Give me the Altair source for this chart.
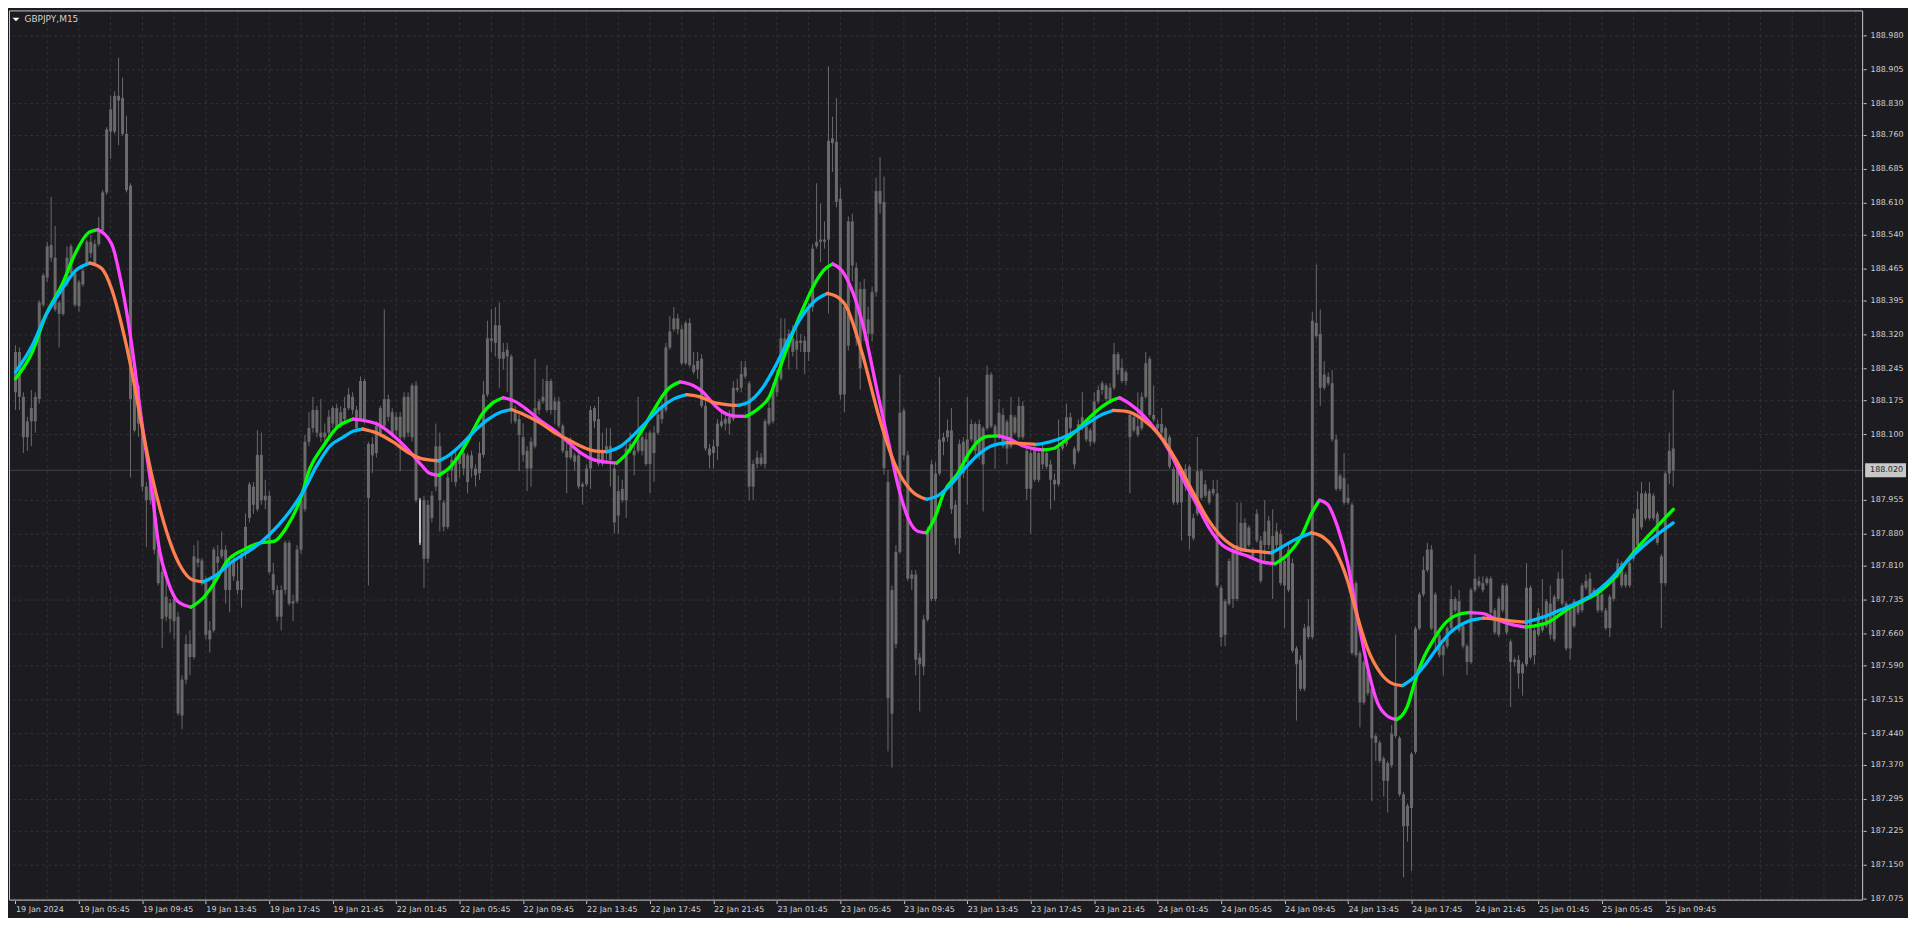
import json
import altair as alt
import pandas as pd

# ---------------- data ----------------
title_text = "GBPJPY,M15"
bid_price = 188.020

open_ = [
188.281,188.281,188.182,188.093,188.128,188.128,188.177,188.385,188.445,188.517,
188.489,188.365,188.365,188.430,188.514,188.385,188.382,188.430,188.475,188.524,
188.475,188.519,188.549,188.633,188.767,188.767,188.846,188.841,188.762,188.648,
188.108,188.207,188.123,187.954,188.014,187.974,187.845,187.796,187.741,187.692,
187.736,187.697,187.479,187.558,187.608,187.608,187.825,187.821,187.776,187.647,
187.667,187.816,187.845,187.845,187.756,187.821,187.756,187.756,187.835,187.915,
187.944,187.934,188.054,187.964,187.964,187.791,187.756,187.697,187.860,187.860,
187.726,187.731,187.845,187.934,188.083,188.153,188.153,188.093,188.093,188.103,
188.157,188.113,188.123,188.133,188.187,188.182,188.113,188.133,188.217,187.959,
188.053,188.058,188.098,188.118,188.177,188.148,188.108,188.093,188.093,188.182,
188.093,188.207,187.954,187.825,187.825,187.915,187.984,188.073,187.895,187.895,
188.019,187.994,188.034,188.058,187.994,188.053,188.009,188.014,188.054,188.187,
188.306,188.301,188.340,188.266,188.286,188.271,188.153,188.133,188.093,188.063,
188.024,188.073,188.153,188.172,188.153,188.217,188.172,188.172,188.118,188.063,
188.048,188.053,188.053,187.984,187.989,188.024,188.157,188.133,188.034,188.063,
188.073,188.024,187.920,187.954,187.954,188.063,188.063,188.063,188.093,188.088,
188.034,188.058,188.103,188.133,188.153,188.291,188.331,188.355,188.331,188.256,
188.345,188.252,188.242,188.266,188.162,188.068,188.058,188.073,188.118,188.123,
188.123,188.133,188.197,188.202,188.227,188.212,187.984,188.034,188.048,188.034,
188.123,188.128,188.192,188.222,188.311,188.291,188.311,188.286,188.306,188.281,
188.281,188.380,188.514,188.524,188.529,188.529,188.742,188.744,188.619,188.187,
188.295,188.569,188.467,188.245,188.420,188.353,188.321,188.413,188.608,188.612,
187.994,187.483,187.637,187.840,188.152,188.053,187.790,187.790,187.607,187.587,
187.691,187.736,187.736,188.013,188.083,188.093,188.108,187.944,187.870,188.013,
188.088,188.088,188.122,188.053,188.113,188.113,188.231,188.117,188.093,188.142,
188.068,188.073,188.137,188.093,188.162,188.063,187.979,188.068,187.999,188.068,
188.058,188.033,187.999,187.989,188.068,188.078,188.137,188.068,188.063,188.113,
188.117,188.108,188.083,188.172,188.197,188.207,188.172,188.202,188.276,188.246,
188.217,188.142,188.108,188.117,188.113,188.182,188.266,188.142,188.122,188.122,
188.113,188.093,188.023,187.949,188.013,187.984,188.028,187.870,187.924,188.018,
187.964,187.974,187.969,187.969,187.761,187.657,187.726,187.736,187.736,187.840,
187.904,187.855,187.840,187.865,187.865,187.855,187.909,187.815,187.855,187.880,
187.820,187.845,187.815,187.627,187.602,187.538,187.652,187.652,188.345,188.321,
188.202,188.226,188.212,188.088,187.979,188.003,187.949,187.944,187.771,187.617,
187.508,187.577,187.538,187.434,187.419,187.384,187.335,187.369,187.434,187.429,
187.305,187.235,187.275,187.399,187.671,187.746,187.800,187.845,187.746,187.657,
187.612,187.632,187.672,187.736,187.731,187.676,187.632,187.597,187.756,187.776,
187.756,187.771,187.781,187.711,187.657,187.711,187.766,187.642,187.597,187.602,
187.572,187.592,187.761,187.612,187.657,187.681,187.676,187.726,187.647,187.736,
187.781,187.726,187.627,187.676,187.726,187.711,187.761,187.781,187.746,187.746,
187.711,187.711,187.672,187.736,187.785,187.815,187.766,187.766,187.825,187.855,
187.894,187.914,187.969,187.964,187.924,187.830,187.771,188.013,188.068]

high = [
188.296,188.291,188.192,188.138,188.197,188.192,188.395,188.455,188.524,188.623,
188.559,188.395,188.435,188.514,188.519,188.460,188.440,188.470,188.529,188.539,
188.529,188.579,188.638,188.777,188.846,188.856,188.930,188.886,188.802,188.653,
188.212,188.212,188.133,187.994,188.024,187.984,187.855,187.806,187.786,187.736,
187.746,187.707,187.568,187.657,187.667,187.855,187.865,187.826,187.786,187.687,
187.850,187.855,187.885,187.855,187.826,187.836,187.816,187.845,187.925,187.994,
187.994,188.108,188.103,187.999,187.974,187.816,187.766,187.766,187.865,187.865,
187.746,187.855,187.964,188.098,188.148,188.182,188.162,188.177,188.123,188.153,
188.162,188.167,188.162,188.182,188.202,188.192,188.162,188.227,188.222,188.083,
188.093,188.128,188.162,188.375,188.187,188.157,188.148,188.148,188.192,188.192,
188.212,188.217,187.959,187.964,187.954,187.974,188.123,188.103,187.954,188.014,
188.053,188.063,188.058,188.063,188.058,188.063,188.033,188.083,188.217,188.350,
188.375,188.380,188.390,188.301,188.301,188.276,188.162,188.143,188.123,188.073,
188.093,188.266,188.177,188.222,188.252,188.222,188.182,188.182,188.123,188.083,
188.093,188.058,188.058,187.994,188.033,188.162,188.162,188.182,188.103,188.113,
188.113,188.033,188.009,187.999,188.083,188.103,188.083,188.182,188.108,188.103,
188.108,188.118,188.162,188.172,188.301,188.360,188.380,188.365,188.340,188.350,
188.355,188.281,188.281,188.276,188.172,188.078,188.088,188.133,188.153,188.148,
188.153,188.217,188.222,188.261,188.261,188.217,188.043,188.063,188.058,188.133,
188.182,188.212,188.242,188.355,188.355,188.331,188.340,188.350,188.321,188.316,
188.390,188.519,188.653,188.608,188.569,188.911,188.800,188.841,188.644,188.392,
188.580,188.586,188.478,188.435,188.442,188.381,188.424,188.666,188.711,188.668,
188.020,187.766,187.855,188.231,188.157,188.063,187.800,187.800,187.617,187.701,
187.895,188.043,188.038,188.226,188.103,188.132,188.157,187.954,188.088,188.093,
188.182,188.132,188.127,188.132,188.117,188.251,188.236,188.122,188.177,188.157,
188.132,188.182,188.142,188.182,188.172,188.073,188.068,188.078,188.068,188.078,
188.068,188.043,188.013,188.132,188.088,188.167,188.147,188.073,188.132,188.192,
188.122,188.113,188.192,188.207,188.217,188.212,188.212,188.301,188.281,188.266,
188.241,188.147,188.142,188.192,188.192,188.281,188.271,188.207,188.132,188.157,
188.117,188.098,188.028,188.028,188.018,188.033,188.033,187.924,188.093,188.023,
187.999,187.979,187.999,187.999,187.766,187.736,187.825,187.850,187.949,187.949,
187.914,187.899,187.850,187.934,187.875,187.954,187.919,187.934,187.904,187.889,
187.830,187.855,187.825,187.632,187.612,187.681,187.736,188.370,188.474,188.375,
188.261,188.236,188.241,188.098,188.013,188.058,187.989,187.949,187.776,187.622,
187.602,187.582,187.543,187.439,187.424,187.389,187.379,187.458,187.657,187.434,
187.310,187.285,187.399,187.676,187.751,187.830,187.860,187.855,187.751,187.662,
187.637,187.676,187.766,187.741,187.756,187.681,187.637,187.761,187.835,187.786,
187.786,187.786,187.786,187.716,187.741,187.771,187.771,187.647,187.607,187.612,
187.597,187.815,187.766,187.676,187.716,187.780,187.736,187.766,187.746,187.795,
187.845,187.731,187.721,187.736,187.731,187.771,187.790,187.795,187.761,187.751,
187.751,187.716,187.746,187.790,187.825,187.820,187.795,187.820,187.924,187.974,
187.994,187.974,187.994,187.969,187.929,187.835,188.018,188.103,188.197]

low = [
188.153,188.153,188.058,188.063,188.073,188.103,188.167,188.380,188.435,188.480,
188.370,188.291,188.361,188.425,188.450,188.380,188.370,188.425,188.470,188.489,
188.470,188.514,188.539,188.628,188.707,188.762,188.737,188.757,188.633,188.004,
188.103,188.093,187.974,187.851,187.944,187.835,187.766,187.628,187.687,187.662,
187.648,187.479,187.449,187.548,187.568,187.603,187.806,187.766,187.647,187.618,
187.662,187.786,187.825,187.726,187.707,187.776,187.746,187.717,187.825,187.905,
187.924,187.929,187.944,187.934,187.791,187.746,187.687,187.667,187.746,187.721,
187.687,187.726,187.835,187.929,188.073,188.103,188.093,188.083,188.083,188.093,
188.113,188.108,188.113,188.128,188.153,188.143,188.103,188.128,188.123,187.766,
188.014,188.048,188.093,188.113,188.128,188.093,188.098,188.018,188.088,188.093,
188.083,187.949,187.855,187.761,187.816,187.905,187.974,187.885,187.885,187.890,
187.994,187.984,188.004,188.009,187.969,188.004,187.984,187.999,188.048,188.182,
188.281,188.271,188.202,188.242,188.192,188.123,188.123,188.018,188.039,187.974,
187.984,188.068,188.143,188.167,188.148,188.143,188.123,188.113,188.058,187.969,
188.043,188.019,187.979,187.944,187.984,187.979,188.113,188.029,188.029,188.034,
187.984,187.880,187.880,187.949,187.915,188.058,188.009,188.058,188.053,188.029,
187.969,187.994,188.098,188.123,188.148,188.286,188.326,188.321,188.252,188.252,
188.247,188.232,188.222,188.157,188.063,188.024,188.024,188.043,188.113,188.108,
188.098,188.128,188.192,188.192,188.222,187.954,187.954,188.024,188.029,188.024,
188.118,188.123,188.182,188.217,188.281,188.242,188.271,188.242,188.281,188.232,
188.261,188.370,188.509,188.479,188.509,188.366,188.678,188.600,188.176,188.148,
188.284,188.437,188.295,188.198,188.305,188.295,188.305,188.403,188.586,188.010,
187.400,187.364,187.627,187.835,188.043,187.776,187.756,187.568,187.488,187.568,
187.686,187.731,187.731,188.008,188.053,188.083,187.924,187.855,187.835,188.003,
187.944,188.083,188.053,188.043,187.929,188.108,188.113,188.023,188.088,188.068,
188.033,188.068,188.098,188.088,188.088,187.954,187.880,187.994,187.994,188.023,
188.023,187.934,187.954,187.984,188.063,188.073,188.103,188.023,188.058,188.108,
188.083,188.073,188.078,188.167,188.187,188.172,188.167,188.197,188.231,188.212,
188.207,187.969,188.103,188.093,188.108,188.177,188.137,188.127,188.108,188.098,
188.073,188.023,187.944,187.944,187.865,187.974,187.845,187.865,187.919,187.954,
187.959,187.944,187.964,187.761,187.632,187.632,187.721,187.716,187.731,187.835,
187.840,187.850,187.825,187.860,187.771,187.815,187.845,187.736,187.845,187.766,
187.672,187.751,187.617,187.468,187.533,187.533,187.647,187.647,188.311,188.162,
188.197,188.207,188.083,187.974,187.974,187.944,187.944,187.612,187.607,187.453,
187.503,187.523,187.290,187.379,187.374,187.300,187.265,187.364,187.429,187.300,
187.122,187.201,187.136,187.394,187.667,187.741,187.795,187.667,187.617,187.607,
187.568,187.627,187.667,187.706,187.662,187.627,187.568,187.592,187.751,187.761,
187.751,187.766,187.701,187.657,187.652,187.706,187.657,187.498,187.587,187.538,
187.523,187.587,187.602,187.592,187.652,187.662,187.672,187.647,187.642,187.731,
187.721,187.622,187.602,187.672,187.701,187.706,187.756,187.741,187.741,187.706,
187.706,187.667,187.652,187.731,187.781,187.761,187.761,187.761,187.820,187.850,
187.889,187.909,187.909,187.909,187.855,187.672,187.766,187.989,187.984]

close = [
188.192,188.182,188.093,188.128,188.157,188.182,188.390,188.450,188.514,188.489,
188.375,188.390,188.425,188.489,188.455,188.455,188.435,188.460,188.524,188.499,
188.519,188.549,188.633,188.772,188.816,188.846,188.836,188.762,188.638,188.177,
188.202,188.123,187.984,187.984,187.954,187.845,187.771,187.692,187.697,187.727,
187.687,187.484,187.558,187.637,187.637,187.830,187.816,187.776,187.657,187.667,
187.845,187.830,187.830,187.756,187.816,187.786,187.776,187.835,187.895,187.989,
187.984,188.054,187.954,187.954,187.796,187.756,187.697,187.756,187.756,187.726,
187.731,187.845,187.954,188.083,188.113,188.113,188.103,188.103,188.103,188.138,
188.123,188.157,188.148,188.157,188.157,188.153,188.153,188.217,188.133,188.078,
188.078,188.118,188.157,188.177,188.138,188.098,188.138,188.138,188.182,188.103,
188.207,187.954,187.860,187.954,187.944,187.964,188.073,187.954,187.949,188.004,
188.043,188.048,188.053,188.024,188.053,188.024,188.024,188.058,188.187,188.311,
188.311,188.340,188.266,188.281,188.271,188.153,188.128,188.098,188.054,188.024,
188.083,188.157,188.172,188.182,188.217,188.153,188.153,188.118,188.063,188.048,
188.073,188.039,187.984,187.989,188.024,188.153,188.128,188.034,188.063,188.073,
188.043,187.905,187.974,187.979,188.068,188.078,188.053,188.088,188.063,188.034,
188.103,188.103,188.143,188.162,188.291,188.326,188.355,188.331,188.256,188.345,
188.252,188.237,188.261,188.162,188.068,188.053,188.073,188.123,188.128,188.133,
188.138,188.202,188.202,188.232,188.247,187.984,188.034,188.048,188.034,188.128,
188.157,188.202,188.222,188.311,188.291,188.321,188.281,188.306,188.301,188.306,
188.380,188.509,188.524,188.529,188.524,188.747,188.752,188.612,188.187,188.381,
188.569,188.472,188.312,188.420,188.327,188.321,188.413,188.636,188.636,188.025,
187.518,187.756,187.840,188.147,188.053,187.781,187.781,187.602,187.592,187.691,
187.885,188.033,188.013,188.088,188.093,188.108,187.934,187.870,188.078,188.083,
188.038,188.122,188.063,188.122,188.033,188.231,188.117,188.093,188.147,188.073,
188.127,188.142,188.103,188.162,188.093,187.979,188.058,187.999,188.058,188.033,
188.028,187.999,187.989,188.068,188.078,188.137,188.113,188.033,188.122,188.137,
188.088,188.083,188.172,188.197,188.212,188.177,188.202,188.276,188.241,188.217,
188.236,188.093,188.137,188.098,188.182,188.256,188.142,188.132,188.113,188.103,
188.078,188.028,187.949,188.023,187.949,188.023,187.875,187.914,188.018,187.959,
187.989,187.949,187.979,187.766,187.652,187.731,187.820,187.845,187.855,187.904,
187.845,187.894,187.830,187.924,187.776,187.885,187.855,187.875,187.885,187.771,
187.766,187.756,187.622,187.592,187.538,187.672,187.676,188.350,188.316,188.202,
188.231,188.212,188.088,187.979,188.008,187.949,187.959,187.617,187.612,187.508,
187.597,187.528,187.429,187.419,187.379,187.335,187.374,187.439,187.543,187.305,
187.235,187.280,187.394,187.671,187.746,187.800,187.845,187.671,187.657,187.612,
187.632,187.672,187.736,187.711,187.667,187.632,187.597,187.756,187.781,187.766,
187.771,187.781,187.706,187.662,187.736,187.766,187.662,187.597,187.602,187.572,
187.592,187.761,187.607,187.667,187.706,187.667,187.731,187.657,187.741,187.781,
187.726,187.627,187.716,187.731,187.706,187.766,187.776,187.746,187.756,187.711,
187.746,187.672,187.741,187.785,187.815,187.766,187.790,187.815,187.914,187.934,
187.969,187.969,187.914,187.914,187.860,187.771,188.013,188.063,188.020]

# bar index drawn white in the picture
white_bar = 102

# fast smoothing line (green rising / magenta falling), sampled along the bars
fast_idx = [0,4.25,7.6,11.75,15.1,18.4,20.75,24.25,26.75,29.25,31.75,34.25,36.3,38.4,40.9,44.25,47.6,50.1,53.4,57.6,
            61.75,65.1,68.4,71.75,74.25,77.6,80.9,85.1,90.9,95.1,99.25,102.6,104.25,106.75,109.25,112.6,115.1,117.6,120.1,123,
            125.9,129.25,132.6,135.9,139.25,142.6,145.9,149.25,151.6,154.25,157.6,160.9,164.25,167.6,170.9,173.4,175.9,178.4,180.9,184.25,
            187.6,190.1,192.6,195.9,199.25,201.75,204.25,206.1,208.4,213.4,217.6,220.1,222.6,225.1,227.6,229.7,231.75,234.25,237.6,240.1,
            242.6,245.1,248,250.9,254.25,256.75,259.25,261.75,264.25,267.6,270.9,274.25,276.75,278.4,280.9,284.25,287.6,290.9,294.25,297.6,
            300.9,304.25,307.6,310.9,314.25,317.6,320.9,324.25,326.75,328.8,330.9,333.4,335.9,338.4,340.9,343.4,345.9,348.25,350.9,353,
            355.1,357.6,360.9,364.25,366.75,370.1,373.4,377.6,380.9,386.75,390.9,395.1,399.25,403.4,406.75,410.1,414.25,418]
fast_val = [188.222,188.281,188.361,188.430,188.499,188.544,188.551,188.519,188.430,188.301,
            188.133,187.984,187.845,187.776,187.731,187.718,187.741,187.771,187.820,187.845,
            187.860,187.863,187.895,187.954,188.024,188.073,188.113,188.133,188.123,188.098,
            188.063,188.029,188.014,188.009,188.024,188.063,188.103,188.143,188.167,188.180,
            188.172,188.152,188.128,188.108,188.083,188.058,188.043,188.038,188.036,188.058,
            188.103,188.152,188.197,188.215,188.207,188.192,188.167,188.148,188.140,188.139,
            188.158,188.182,188.242,188.321,188.390,188.435,188.465,188.475,188.460,188.350,
            188.182,188.083,187.984,187.914,187.885,187.882,187.914,187.974,188.013,188.053,
            188.083,188.095,188.096,188.088,188.073,188.068,188.065,188.068,188.083,188.108,
            188.137,188.162,188.175,188.180,188.167,188.142,188.108,188.063,188.003,187.949,
            187.894,187.855,187.840,187.830,187.818,187.814,187.835,187.875,187.924,187.954,
            187.944,187.894,187.815,187.696,187.587,187.508,187.478,187.470,187.498,187.558,
            187.607,187.647,187.686,187.703,187.706,187.704,187.691,187.679,187.674,187.686,
            187.711,187.731,187.751,187.785,187.825,187.860,187.899,187.934]

# slow smoothing line (blue rising / coral falling)
slow_idx = [0,4.25,7.6,11.75,15.1,18.8,21.75,24.25,26.75,29.25,31.75,34.25,36.75,39.25,41.75,44.7,47.4,51,54.25,57.6,
            61.75,65.9,69.25,72.6,75.9,79.25,82.6,85.1,87.6,90.9,95.1,99.25,102.6,104.25,106.75,109.25,112.6,115.9,119.25,122.6,
            125.1,128.4,132.6,135.9,139.25,142.6,145.9,149.25,152.6,155.9,159.25,162.6,165.9,169.25,172.6,175.9,179.25,182.2,185.1,188.4,
            191.75,195.1,198.4,201.75,204.7,207.6,209.25,213.4,217.6,221.75,226,229.7,232.6,235.9,239.25,242.6,245.9,250.1,254.25,257.6,
            260.9,264.25,267.6,270.9,274.25,276.75,280.1,284.25,288.4,292.6,296.75,300.9,305.1,309.25,314.1,316.75,319.25,322.6,326.75,329.25,
            332.6,335.9,338.4,340.9,344.25,347.6,349.7,352.6,355.1,358.4,361.75,366,370.1,374.25,377.6,380.9,385.1,389.25,393.4,397.6,
            401.75,405.9,410.1,414.25,418]
slow_val = [188.237,188.296,188.361,188.420,188.460,188.477,188.465,188.420,188.341,188.242,
            188.123,188.014,187.925,187.855,187.806,187.778,187.774,187.791,187.816,187.835,
            187.860,187.895,187.930,187.974,188.029,188.073,188.093,188.106,188.111,188.103,
            188.083,188.058,188.045,188.043,188.041,188.053,188.078,188.108,188.133,188.149,
            188.154,188.142,188.123,188.103,188.088,188.073,188.063,188.061,188.073,188.098,
            188.128,188.157,188.177,188.187,188.182,188.170,188.165,188.163,188.172,188.202,
            188.252,188.311,188.361,188.395,188.410,188.400,188.385,188.281,188.142,188.033,
            187.974,187.956,187.964,187.989,188.023,188.053,188.073,188.081,188.079,188.077,
            188.083,188.093,188.108,188.127,188.144,188.152,188.150,188.132,188.098,188.043,
            187.974,187.909,187.865,187.845,187.840,187.838,187.850,187.867,187.882,187.875,
            187.845,187.776,187.696,187.627,187.572,187.548,187.545,187.563,187.587,187.627,
            187.662,187.686,187.694,187.691,187.687,187.685,187.696,187.711,187.726,187.746,
            187.776,187.815,187.850,187.880,187.904]

y_ticks = [188.980,188.905,188.830,188.760,188.685,188.610,188.540,188.465,188.395,188.320,
           188.245,188.175,188.100,187.955,187.880,187.810,187.735,187.660,187.590,187.515,
           187.440,187.370,187.295,187.225,187.150,187.075]

x_labels = ["19 Jan 2024","19 Jan 05:45","19 Jan 09:45","19 Jan 13:45","19 Jan 17:45","19 Jan 21:45",
            "22 Jan 01:45","22 Jan 05:45","22 Jan 09:45","22 Jan 13:45","22 Jan 17:45","22 Jan 21:45",
            "23 Jan 01:45","23 Jan 05:45","23 Jan 09:45","23 Jan 13:45","23 Jan 17:45","23 Jan 21:45",
            "24 Jan 01:45","24 Jan 05:45","24 Jan 09:45","24 Jan 13:45","24 Jan 17:45","24 Jan 21:45",
            "25 Jan 01:45","25 Jan 05:45","25 Jan 09:45"]
bars_per_label = 16
bars_per_grid = 8

# ---------------- styling ----------------
BG = "#1c1c20"
GRID = "#313137"
FRAME = "#c8c8c8"
TEXT = "#d0d0d0"
CANDLE = "#6a6a6a"
BID_LINE = "#404044"
BOX = "#c8c8c8"
BOX_TEXT = "#1c1c20"
FAST_UP, FAST_DN = "#00ff00", "#ff44ff"
SLOW_UP, SLOW_DN = "#00bfff", "#ff7f50"
FONT = "DejaVu Sans"

W, H = 1860, 893
x_scale = alt.Scale(domain=[-0.375, 464.625], nice=False, zero=False)
y_scale = alt.Scale(domain=[187.0707, 189.0344], nice=False, zero=False)

n = len(close)
candles = pd.DataFrame({"i": list(range(n)), "o": open_, "h": high, "l": low, "c": close})
candles["col"] = ["#ffffff" if k == white_bar else CANDLE for k in range(n)]
candles["w"] = [1 if k == white_bar else 3 for k in range(n)]


def split_segments(idx, vals, up_col, dn_col, tag):
    rows = []
    start, seg = 0, 0
    last = len(idx) - 1
    for k in range(1, last + 1):
        turn = k == last or (vals[k + 1] - vals[k]) * (vals[k] - vals[k - 1]) < 0
        if turn:
            col = up_col if vals[k] > vals[start] else dn_col
            for j in range(start, k + 1):
                rows.append({"i": idx[j], "v": vals[j], "seg": f"{tag}{seg}", "col": col})
            seg += 1
            start = k
    return pd.DataFrame(rows)


fast_df = split_segments(fast_idx, fast_val, FAST_UP, FAST_DN, "f")
slow_df = split_segments(slow_idx, slow_val, SLOW_UP, SLOW_DN, "s")

x_tick_pos = [bars_per_label * k for k in range(len(x_labels))]
x_axis = alt.Axis(values=x_tick_pos,
                  labelExpr=f"{json.dumps(x_labels)}[round(datum.value / {bars_per_label})]",
                  labelAlign="left", labelBaseline="top", labelPadding=2, labelOffset=0,
                  labelFont=FONT, labelFontSize=8, labelColor=TEXT,
                  tickColor=FRAME, tickSize=3, grid=False, domain=False,
                  labelOverlap=False, labelFlush=False, title=None)
y_axis = alt.Axis(orient="right", values=y_ticks, format=".3f",
                  labelFont=FONT, labelFontSize=8, labelColor=TEXT, labelPadding=4,
                  tickColor=FRAME, tickSize=3, grid=True, gridColor=GRID, gridDash=[3, 3],
                  gridWidth=1, domain=False, labelOverlap=False, labelFlush=False, title=None)

vgrid = alt.Chart(pd.DataFrame({"g": list(range(bars_per_grid, 465, bars_per_grid))})).mark_rule(
    color=GRID, strokeDash=[3, 3], strokeWidth=1).encode(x=alt.X("g:Q", scale=x_scale, axis=None))

bid_line = alt.Chart(pd.DataFrame({"p": [bid_price]})).mark_rule(color=BID_LINE, strokeWidth=1).encode(
    y=alt.Y("p:Q", scale=y_scale, axis=None))

base = alt.Chart(candles)
wicks = base.mark_rule(strokeWidth=1).encode(
    x=alt.X("i:Q", scale=x_scale, axis=x_axis),
    y=alt.Y("l:Q", scale=y_scale, axis=y_axis),
    y2="h:Q",
    color=alt.Color("col:N", scale=None))
bodies = base.mark_bar().encode(
    x=alt.X("i:Q", scale=x_scale, axis=None),
    y=alt.Y("o:Q", scale=y_scale, axis=None),
    y2="c:Q",
    color=alt.Color("col:N", scale=None),
    size=alt.Size("w:Q", scale=None))


def line_layer(df):
    return alt.Chart(df).mark_line(strokeWidth=3.3, interpolate="monotone", strokeCap="round").encode(
        x=alt.X("i:Q", scale=x_scale, axis=None),
        y=alt.Y("v:Q", scale=y_scale, axis=None),
        detail="seg:N",
        color=alt.Color("col:N", scale=None),
        order="i:Q")


fast_line = line_layer(fast_df)
slow_line = line_layer(slow_df)

one = pd.DataFrame({"t": [title_text], "p": [bid_price], "s": [f"{bid_price:.3f}"]})
frame = alt.Chart(one).mark_rect(fillOpacity=0, stroke=FRAME, strokeWidth=1).encode(
    x=alt.value(0.5), x2=alt.value(W - 0.5), y=alt.value(0.5), y2=alt.value(H - 0.5))
title = alt.Chart(one).mark_text(align="left", baseline="alphabetic", font=FONT, fontSize=9, color=TEXT).encode(
    x=alt.value(15.5), y=alt.value(11.5), text="t:N")
tri = alt.Chart(one).mark_point(shape="M-1,-0.5L1,-0.5L0,0.5Z", size=49, filled=True, opacity=1,
                                color="#ffffff", strokeWidth=0).encode(x=alt.value(7), y=alt.value(9))
box = alt.Chart(one).mark_point(shape="M-1,-0.34L1,-0.34L1,0.34L-1,0.34Z", size=1681, filled=True, opacity=1,
                                color=BOX, strokeWidth=0).encode(
    x=alt.value(W + 22.5), y=alt.Y("p:Q", scale=y_scale, axis=None))
box_text = alt.Chart(one).mark_text(align="left", baseline="middle", font=FONT, fontSize=8, color=BOX_TEXT).encode(
    x=alt.value(W + 7), y=alt.Y("p:Q", scale=y_scale, axis=None), text="s:N")

chart = alt.layer(vgrid, bid_line, wicks, bodies, fast_line, slow_line, frame, title, tri, box, box_text).resolve_axis(
    x="independent", y="independent"
).properties(
    width=W, height=H,
    padding={"left": 1, "top": 1, "right": 45, "bottom": 16},
    autosize=alt.AutoSizeParams(type="none"),
    background=BG,
).configure_view(stroke=None)

chart.save("out.html", embed_options={"renderer": "svg", "actions": False})
